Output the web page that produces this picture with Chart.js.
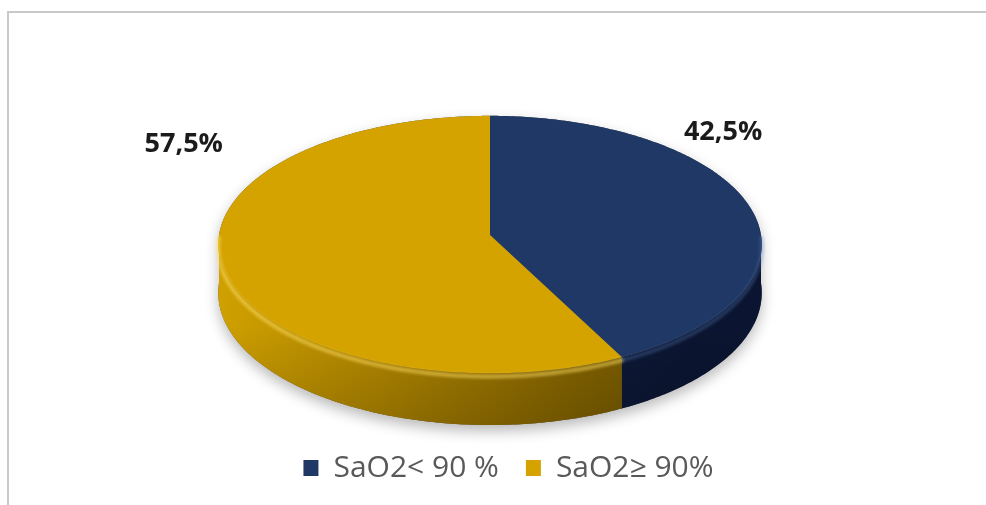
<!DOCTYPE html>
<html>
<head>
<meta charset="utf-8">
<script src="https://cdn.jsdelivr.net/npm/chart.js@4/dist/chart.umd.min.js"></script>
<style>
  html, body { margin: 0; padding: 0; background: #fff; }
  #wrap { position: relative; width: 986px; height: 505px; overflow: hidden; }
  #frame { position: absolute; left: 7px; top: 11px; right: -10px; bottom: -10px;
           border-top: 2px solid #c9c9c9; border-left: 2px solid #c9c9c9; }
  #c { position: absolute; left: 0; top: 0; }
</style>
</head>
<body>
<div id="wrap">
  <div id="frame"></div>
  <canvas id="c" width="986" height="505"></canvas>
</div>
<script>
// Oxygen saturation groups and their share of patients (%)
const categories = ['SaO2< 90 %', 'SaO2≥ 90%'];
const shares = [42.5, 57.5];

// Slice colours: top face, then the side-wall shading
const faceColors = ['#1f3865', '#d4a300'];
const wallStops = [
  [[0, '#1a2d57'], [1, '#0b1531']],
  [[0, '#cfa000'], [0.35, '#b08600'], [0.75, '#856500'], [1, '#6e5300']]
];
const rimGlow = ['rgba(90,125,190,0.35)', 'rgba(255,222,100,0.55)'];

// Where each value label sits, as fractions of the disc radii from its centre
const labelAt = [[0.86, -0.80], [-1.13, -0.71]];

const TAU = Math.PI * 2;

// Parts of a slice [a0, a1] that face the viewer (lower half of the disc)
function frontRanges(a0, a1) {
  const out = [];
  for (let k = -1; k <= 1; k++) {
    const lo = Math.max(a0, k * TAU), hi = Math.min(a1, k * TAU + Math.PI);
    if (hi > lo) out.push([lo, hi]);
  }
  return out;
}

// Draws the pie as a tilted disc with a side wall, using the angles
// Chart.js computes for each arc element.
const pie3d = {
  id: 'pie3d',
  beforeDatasetsDraw(chart, args, o) {
    const ctx = chart.ctx;
    const arcs = chart.getDatasetMeta(0).data;
    const P = (a, dz) => {
      const u = Math.cos(a), v = Math.sin(a);
      const s = 1 / (1 - o.persp * v);
      return [o.cx + o.rx * u * s, o.cy + (o.ry * v + dz) * s];
    };
    const trace = (a0, a1, dz, start) => {
      const n = Math.max(2, Math.ceil(Math.abs(a1 - a0) / (Math.PI / 240)));
      for (let i = 0; i <= n; i++) {
        const [x, y] = P(a0 + (a1 - a0) * i / n, dz);
        if (i === 0 && start) ctx.moveTo(x, y); else ctx.lineTo(x, y);
      }
    };

    ctx.save();

    // soft shadow below the disc
    ctx.save();
    ctx.shadowColor = 'rgba(0,0,0,0.28)';
    ctx.shadowBlur = 14;
    ctx.shadowOffsetY = 6;
    ctx.fillStyle = '#555';
    ctx.beginPath();
    trace(0, Math.PI, o.depth, true);
    trace(Math.PI, TAU, 0, false);
    ctx.closePath();
    ctx.fill();
    ctx.restore();

    // side walls
    arcs.forEach((arc, i) => {
      frontRanges(arc.startAngle, arc.endAngle).forEach(([lo, hi]) => {
        const g = ctx.createLinearGradient(o.cx - o.rx, 0, o.cx + o.rx * 0.75, 0);
        wallStops[i].forEach(([t, c]) => g.addColorStop(t, c));
        ctx.beginPath();
        trace(lo, hi, 0, true);
        trace(hi, lo, o.depth, false);
        ctx.closePath();
        ctx.fillStyle = g;
        ctx.fill();
        // darker lower band of the wall
        const [, yTop] = P(Math.PI / 2, 0);
        const vg = ctx.createLinearGradient(0, yTop - o.depth, 0, yTop + o.depth * 1.1);
        vg.addColorStop(0, 'rgba(0,0,0,0)');
        vg.addColorStop(1, 'rgba(0,0,0,0.18)');
        ctx.fillStyle = vg;
        ctx.fill();
      });
    });

    // top faces
    arcs.forEach((arc, i) => {
      ctx.beginPath();
      ctx.moveTo(o.cx, o.cy);
      trace(arc.startAngle, arc.endAngle, 0, false);
      ctx.closePath();
      ctx.fillStyle = arc.options.backgroundColor;
      ctx.fill();
    });

    // rounded rim highlight along the front edge
    ctx.lineCap = 'round';
    arcs.forEach((arc, i) => {
      frontRanges(arc.startAngle, arc.endAngle).forEach(([lo, hi]) => {
        ctx.beginPath();
        trace(lo, hi, 3, true);
        ctx.strokeStyle = rimGlow[i];
        ctx.lineWidth = 4;
        ctx.filter = 'blur(1.5px)';
        ctx.stroke();
        ctx.filter = 'none';
      });
    });

    ctx.restore();
    return false;
  },
  afterDraw(chart, args, o) {
    const ctx = chart.ctx;
    const values = chart.data.datasets[0].data;
    ctx.save();
    ctx.font = 'bold 27px "Open Sans", sans-serif';
    ctx.fillStyle = '#1b1b1b';
    ctx.textAlign = 'center';
    ctx.textBaseline = 'middle';
    values.forEach((v, i) => {
      const txt = v.toFixed(1).replace('.', ',') + '%';
      ctx.fillText(txt, o.cx + labelAt[i][0] * o.rx, o.cy + labelAt[i][1] * o.ry);
    });
    ctx.restore();
  }
};

new Chart(document.getElementById('c'), {
  type: 'pie',
  data: {
    labels: categories,
    datasets: [{
      data: shares,
      backgroundColor: faceColors,
      borderWidth: 0
    }]
  },
  options: {
    responsive: false,
    animation: false,
    events: [],
    layout: { padding: { left: 31, right: 0, top: 0, bottom: 12 } },
    plugins: {
      tooltip: { enabled: false },
      legend: {
        position: 'bottom',
        labels: {
          boxWidth: 15,
          boxHeight: 16,
          padding: 27,
          color: '#595959',
          font: { family: '"Open Sans", sans-serif', size: 30 }
        }
      },
      pie3d: { cx: 490, cy: 235, rx: 271, ry: 128, persp: 0.074, depth: 48 }
    }
  },
  plugins: [pie3d]
});
</script>
</body>
</html>
